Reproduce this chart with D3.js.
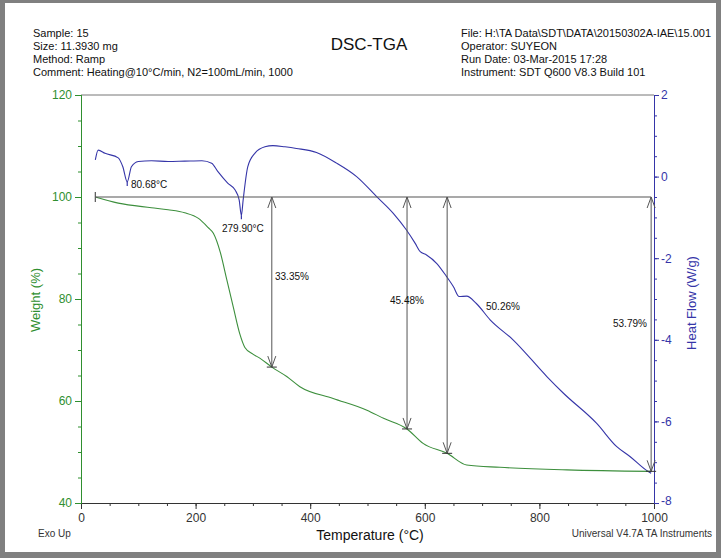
<!DOCTYPE html>
<html>
<head>
<meta charset="utf-8">
<script src="https://cdn.jsdelivr.net/npm/d3@7"></script>
<style>
body{margin:0;padding:0;background:#fff;}
svg{display:block;font-family:"Liberation Sans",Arial,sans-serif;}
</style>
</head>
<body>
<svg id="chart" width="721" height="558"></svg>
<script>
// ---- data ----
const tempW  = [25, 65, 123, 152, 181, 205, 222, 231, 243, 254, 266, 277, 286, 300, 312, 333, 359, 382, 440, 499, 528, 569, 597, 639, 673, 731, 848, 995];
const weight = [100, 98.8, 97.9, 97.5, 96.9, 95.8, 94.0, 92.9, 89.2, 84.0, 78.3, 73.2, 70.5, 69.2, 68.4, 66.65, 64.8, 62.8, 60.5, 58.2, 56.6, 54.52, 51.7, 49.74, 47.45, 47.0, 46.5, 46.21];

const tempH    = [25, 30, 42, 65, 73, 80.68, 88, 100, 123, 152, 181, 211, 228, 239, 256, 269, 276, 279.9, 283, 291, 304, 321, 335, 356, 376, 411, 446, 481, 516, 545, 568, 583, 592, 603, 621, 638, 650, 660, 673, 690, 714, 754, 813, 842, 900, 935, 958, 990, 995];
const heatFlow = [0.41, 0.65, 0.57, 0.46, 0.24, -0.13, 0.24, 0.37, 0.39, 0.37, 0.38, 0.39, 0.33, 0.12, -0.16, -0.33, -0.57, -0.95, -0.57, 0.24, 0.58, 0.73, 0.76, 0.73, 0.69, 0.59, 0.33, 0.0, -0.49, -0.90, -1.31, -1.63, -1.84, -1.92, -2.13, -2.45, -2.70, -2.94, -2.93, -3.11, -3.51, -4.0, -4.9, -5.31, -6.05, -6.62, -6.86, -7.23, -7.27];

const arrowTemps  = [333, 569, 639, 995];
const arrowLabels = ["33.35%", "45.48%", "50.26%", "53.79%"];
const peakTemps   = [80.68, 279.9];
const peakLabels  = ["80.68°C", "279.90°C"];

const xTicks = [0, 200, 400, 600, 800, 1000];
const wTicks = [40, 60, 80, 100, 120];
const hTicks = [-8, -6, -4, -2, 0, 2];

const headerLeft  = ["Sample: 15", "Size:  11.3930 mg", "Method: Ramp", "Comment: Heating@10°C/min, N2=100mL/min, 1000"];
const headerRight = ["File: H:\\TA Data\\SDT\\DATA\\20150302A-IAE\\15.001", "Operator: SUYEON", "Run Date: 03-Mar-2015 17:28", "Instrument: SDT Q600 V8.3 Build 101"];

// ---- layout ----
const svg = d3.select("#chart");
const GREEN = "#2f8f2f", GREEN_LINE = "#3d8f3d", BLUE = "#3535a8", GREY = "#555";

svg.append("rect").attr("x",0).attr("y",0).attr("width",721).attr("height",558).attr("fill","#808080");
svg.append("rect").attr("x",5).attr("y",3).attr("width",711).attr("height",549).attr("fill","#fff");

const x  = d3.scaleLinear().domain([0,1000]).range([81,654]);
const yW = d3.scaleLinear().domain([40,120]).range([503,95]);
const yH = d3.scaleLinear().domain([-8,2]).range([503,95]);

// header
const hl = svg.append("g").attr("font-size",11).attr("fill","#111");
headerLeft.forEach((t,i)=>hl.append("text").attr("x",33).attr("y",37+i*13).text(t));
headerRight.forEach((t,i)=>hl.append("text").attr("x",461).attr("y",37+i*13).text(t));
svg.append("text").attr("x",369).attr("y",50).attr("text-anchor","middle").attr("font-size",17).attr("fill","#111").text("DSC-TGA");

// top border line
svg.append("line").attr("x1",x(0)).attr("x2",x(1000)).attr("y1",yW(120)).attr("y2",yW(120)).attr("stroke","#777").attr("stroke-width",1);

// axes
function styleAxis(g,color){
  g.select(".domain").attr("stroke",color);
  g.selectAll(".tick line").attr("stroke",color);
  g.selectAll(".tick text").attr("fill",color).attr("font-size",12).attr("font-family","Liberation Sans, Arial, sans-serif");
}
// bottom
const gxm = svg.append("g").attr("transform",`translate(0,${yW(40)})`)
  .call(d3.axisBottom(x).tickValues(d3.range(0,1001,50)).tickSize(3).tickFormat(""));
styleAxis(gxm,"#333");
const gx = svg.append("g").attr("transform",`translate(0,${yW(40)})`)
  .call(d3.axisBottom(x).tickValues(xTicks).tickSize(6).tickPadding(4).tickFormat(d3.format("d")));
styleAxis(gx,"#333");
// left
const gym = svg.append("g").attr("transform",`translate(${x(0)},0)`)
  .call(d3.axisLeft(yW).tickValues(d3.range(40,121,5)).tickSize(3).tickFormat(""));
styleAxis(gym,GREEN);
const gy = svg.append("g").attr("transform",`translate(${x(0)},0)`)
  .call(d3.axisLeft(yW).tickValues(wTicks).tickSize(6).tickPadding(3));
styleAxis(gy,GREEN);
// right
const grm = svg.append("g").attr("transform",`translate(${x(1000)},0)`)
  .call(d3.axisRight(yH).tickValues(d3.range(-8,2.01,0.5)).tickSize(3).tickFormat(""));
styleAxis(grm,BLUE);
const gr = svg.append("g").attr("transform",`translate(${x(1000)},0)`)
  .call(d3.axisRight(yH).tickValues(hTicks).tickSize(5).tickPadding(2).tickFormat(d=>d<0?"-"+Math.abs(d):d));
styleAxis(gr,BLUE);
gr.selectAll(".tick text").filter(d=>d===-8).attr("dy","0.1em");

// axis titles
svg.append("text").attr("transform","translate(40,300) rotate(-90)").attr("text-anchor","middle")
  .attr("font-size",13).attr("fill",GREEN).text("Weight (%)");
svg.append("text").attr("transform","translate(696,303) rotate(-90)").attr("text-anchor","middle")
  .attr("font-size",13).attr("fill",BLUE).text("Heat Flow (W/g)");
svg.append("text").attr("x",370).attr("y",540).attr("text-anchor","middle").attr("font-size",14).attr("fill","#111").text("Temperature (°C)");
svg.append("text").attr("x",38).attr("y",537).attr("font-size",10).attr("fill","#333").text("Exo Up");
svg.append("text").attr("x",712).attr("y",537).attr("text-anchor","end").attr("font-size",10).attr("fill","#333").text("Universal V4.7A TA Instruments");

// curves
const wData = tempW.map((t,i)=>[t,weight[i]]);
const hData = tempH.map((t,i)=>[t,heatFlow[i]]);
svg.append("path").datum(hData).attr("fill","none").attr("stroke",BLUE).attr("stroke-width",1.1)
  .attr("d",d3.line().x(d=>x(d[0])).y(d=>yH(d[1])).curve(d3.curveMonotoneX));
svg.append("path").datum(wData).attr("fill","none").attr("stroke",GREEN_LINE).attr("stroke-width",1.1)
  .attr("d",d3.line().x(d=>x(d[0])).y(d=>yW(d[1])).curve(d3.curveMonotoneX));

// baseline annotation
const yb = yW(100);
svg.append("line").attr("x1",x(25)).attr("x2",x(995)).attr("y1",yb).attr("y2",yb).attr("stroke",GREY).attr("stroke-width",1.2);
svg.append("line").attr("x1",x(25)).attr("x2",x(25)).attr("y1",yb-5).attr("y2",yb+5).attr("stroke",GREY).attr("stroke-width",1.2);

const wInterp = t => {
  const i = d3.bisectLeft(tempW,t);
  if (tempW[i]===t) return weight[i];
  const t0=tempW[i-1],t1=tempW[i],w0=weight[i-1],w1=weight[i];
  return w0+(w1-w0)*(t-t0)/(t1-t0);
};
const ag = svg.append("g").attr("stroke",GREY).attr("stroke-width",1).attr("fill","none");
const labelPos = [[275,280],[390,304],[486,310],[613,327]];
arrowTemps.forEach((t,i)=>{
  const xa = x(t), y2 = yW(wInterp(t));
  ag.append("line").attr("x1",xa).attr("x2",xa).attr("y1",yb).attr("y2",y2);
  ag.append("path").attr("d",`M${xa-4},${yb+11}L${xa},${yb}L${xa+4},${yb+11}`);
  ag.append("path").attr("d",`M${xa-4},${y2-11}L${xa},${y2}L${xa+4},${y2-11}`);
  ag.append("line").attr("x1",xa-5).attr("x2",xa+5).attr("y1",y2).attr("y2",y2).attr("stroke","#333");
  svg.append("text").attr("x",labelPos[i][0]).attr("y",labelPos[i][1]).attr("font-size",10).attr("fill","#111").text(arrowLabels[i]);
});

// peak labels
const peakPos = [[131,188],[222,232]];
peakTemps.forEach((t,i)=>{
  const j = tempH.indexOf(t);
  const xp = x(t), yp = yH(heatFlow[j]);
  svg.append("line").attr("x1",xp).attr("x2",xp).attr("y1",yp).attr("y2",yp+4).attr("stroke",BLUE).attr("stroke-width",1.2);
  svg.append("text").attr("x",peakPos[i][0]).attr("y",peakPos[i][1]).attr("font-size",10).attr("fill","#111").text(peakLabels[i]);
});
</script>
</body>
</html>
